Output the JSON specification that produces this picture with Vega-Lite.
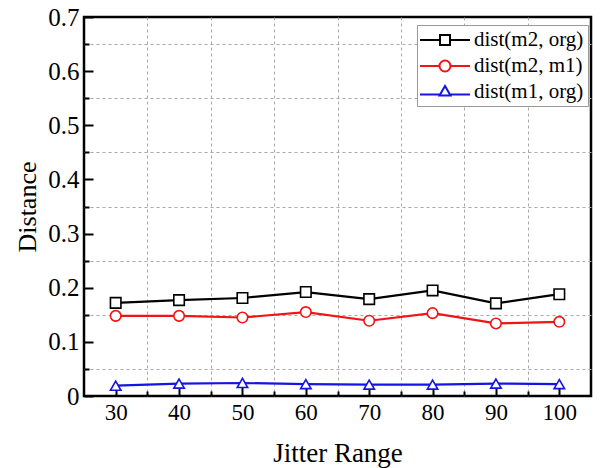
{
  "$schema": "https://vega.github.io/schema/vega-lite/v6.json",
  "width": 507,
  "height": 379,
  "autosize": "none",
  "padding": {"left": 84, "top": 17, "right": 11, "bottom": 72},
  "config": {
    "font": "Liberation Serif, serif",
    "view": {"stroke": "#000000", "strokeWidth": 2.5},
    "background": "white"
  },
  "data": {
    "values": [
      {"x": 30, "series": "dist(m2, org)", "y": 0.172},
      {"x": 40, "series": "dist(m2, org)", "y": 0.177},
      {"x": 50, "series": "dist(m2, org)", "y": 0.181},
      {"x": 60, "series": "dist(m2, org)", "y": 0.192},
      {"x": 70, "series": "dist(m2, org)", "y": 0.179},
      {"x": 80, "series": "dist(m2, org)", "y": 0.195},
      {"x": 90, "series": "dist(m2, org)", "y": 0.171},
      {"x": 100, "series": "dist(m2, org)", "y": 0.188},
      {"x": 30, "series": "dist(m2, m1)", "y": 0.148},
      {"x": 40, "series": "dist(m2, m1)", "y": 0.148},
      {"x": 50, "series": "dist(m2, m1)", "y": 0.145},
      {"x": 60, "series": "dist(m2, m1)", "y": 0.155},
      {"x": 70, "series": "dist(m2, m1)", "y": 0.139},
      {"x": 80, "series": "dist(m2, m1)", "y": 0.153},
      {"x": 90, "series": "dist(m2, m1)", "y": 0.134},
      {"x": 100, "series": "dist(m2, m1)", "y": 0.137},
      {"x": 30, "series": "dist(m1, org)", "y": 0.019},
      {"x": 40, "series": "dist(m1, org)", "y": 0.023},
      {"x": 50, "series": "dist(m1, org)", "y": 0.024},
      {"x": 60, "series": "dist(m1, org)", "y": 0.022},
      {"x": 70, "series": "dist(m1, org)", "y": 0.021},
      {"x": 80, "series": "dist(m1, org)", "y": 0.021},
      {"x": 90, "series": "dist(m1, org)", "y": 0.023},
      {"x": 100, "series": "dist(m1, org)", "y": 0.022}
    ]
  },
  "resolve": {"axis": {"x": "independent", "y": "independent"}, "scale": {"shape": "independent", "color": "independent"}},
  "layer": [
    {
      "mark": {"type": "line", "strokeWidth": 2.2},
      "encoding": {
        "x": {
          "field": "x", "type": "quantitative",
          "scale": {"domain": [25, 105], "nice": false, "zero": false},
          "axis": {
            "orient": "bottom", "title": "Jitter Range", "values": [30, 40, 50, 60, 70, 80, 90, 100],
            "grid": false, "domain": false, "tickSize": -9, "tickWidth": 2, "tickColor": "#000000",
            "labelPadding": 14, "labelFontSize": 23, "labelColor": "#000000",
            "titleFontSize": 27, "titleFontWeight": "normal", "titleColor": "#000000", "titlePadding": 16
          }
        },
        "y": {
          "field": "y", "type": "quantitative",
          "scale": {"domain": [0, 0.7], "nice": false},
          "axis": {
            "orient": "left", "title": "Distance", "values": [0, 0.1, 0.2, 0.3, 0.4, 0.5, 0.6, 0.7],
            "grid": false, "domain": false, "tickSize": -9, "tickWidth": 2, "tickColor": "#000000",
            "labelPadding": 14, "labelFontSize": 25, "labelColor": "#000000",
            "labelExpr": "datum.value === 0 ? '0' : format(datum.value, '.1f')",
            "titleFontSize": 26, "titleFontWeight": "normal", "titleColor": "#000000", "titlePadding": 7
          }
        },
        "color": {
          "field": "series", "type": "nominal",
          "scale": {"domain": ["dist(m2, org)", "dist(m2, m1)", "dist(m1, org)"], "range": ["#000000", "#f01414", "#1414e6"]},
          "legend": null
        }
      }
    },
    {
      "mark": {"type": "point", "filled": false, "fill": "white", "fillOpacity": 1, "opacity": 1, "strokeWidth": 1.6, "size": 110},
      "encoding": {
        "x": {
          "field": "x", "type": "quantitative",
          "axis": {
            "orient": "bottom", "title": null, "values": [35, 45, 55, 65, 75, 85, 95],
            "grid": true, "gridColor": "#a8a8a8", "gridDash": [3, 3], "gridWidth": 1,
            "domain": false, "labels": false, "tickSize": -5, "tickWidth": 2, "tickColor": "#000000"
          }
        },
        "y": {
          "field": "y", "type": "quantitative",
          "axis": {
            "orient": "left", "title": null, "values": [0.05, 0.15, 0.25, 0.35, 0.45, 0.55, 0.65],
            "grid": true, "gridColor": "#a8a8a8", "gridDash": [3, 3], "gridWidth": 1,
            "domain": false, "labels": false, "tickSize": -5, "tickWidth": 2, "tickColor": "#000000"
          }
        },
        "color": {
          "field": "series", "type": "nominal",
          "scale": {"domain": ["dist(m2, org)", "dist(m2, m1)", "dist(m1, org)"], "range": ["#000000", "#f01414", "#1414e6"]},
          "legend": null
        },
        "shape": {
          "field": "series", "type": "nominal",
          "scale": {"domain": ["dist(m2, org)", "dist(m2, m1)", "dist(m1, org)"], "range": ["square", "circle", "triangle-up"]},
          "legend": null
        }
      }
    },
    {
      "transform": [{"filter": "datum.x > 1000"}],
      "mark": {"type": "point", "filled": false, "strokeWidth": 2, "opacity": 1},
      "encoding": {
        "x": {"field": "x", "type": "quantitative", "axis": null},
        "y": {"field": "y", "type": "quantitative", "axis": null},
        "color": {
          "field": "series", "type": "nominal",
          "scale": {"domain": ["dist(m2, org)", "dist(m2, m1)", "dist(m1, org)"], "range": ["#000000", "#f01414", "#1414e6"]},
          "legend": {
            "title": null, "orient": "none", "legendX": 333, "legendY": 8,
            "strokeColor": "#999999", "fillColor": "white", "padding": 4,
            "labelFontSize": 21, "labelColor": "#000000",
            "symbolSize": 400, "symbolOffset": 13, "labelOffset": 18, "rowPadding": 5, "labelLimit": 300,
            "symbolStrokeWidth": 2, "symbolFillColor": "white", "symbolOpacity": 1
          }
        },
        "shape": {
          "field": "series", "type": "nominal",
          "scale": {"domain": ["dist(m2, org)", "dist(m2, m1)", "dist(m1, org)"], "range": ["M-2.5,0H-0.5M0.5,0H2.5M-0.5,-0.5H0.5V0.5H-0.5Z", "M-2.5,0H-0.55M0.55,0H2.5M-0.55,0A0.55,0.55,0,1,1,0.55,0A0.55,0.55,0,1,1,-0.55,0Z", "M-2.5,0.25H-0.5M0.5,0.25H2.5M-0.55,0.35L0,-0.6L0.55,0.35Z"]},
          "legend": {
            "title": null, "orient": "none", "legendX": 333, "legendY": 8,
            "strokeColor": "#999999", "fillColor": "white", "padding": 4,
            "labelFontSize": 21, "labelColor": "#000000",
            "symbolSize": 400, "symbolOffset": 13, "labelOffset": 18, "rowPadding": 5, "labelLimit": 300,
            "symbolStrokeWidth": 2, "symbolFillColor": "white", "symbolOpacity": 1
          }
        }
      }
    }
  ]
}
